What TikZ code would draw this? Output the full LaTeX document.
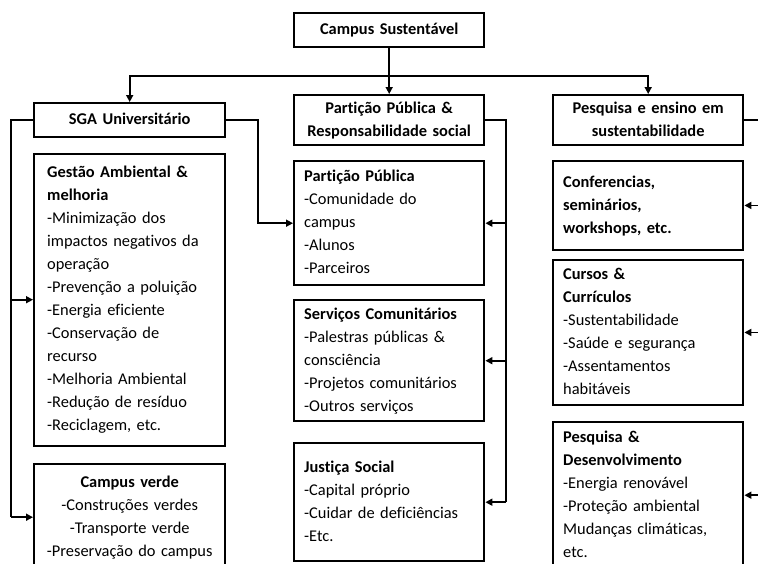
\documentclass[tikz,border=0pt]{standalone}
\usepackage{fontspec}
\setmainfont{Carlito}[Ligatures=NoCommon]
\usetikzlibrary{arrows.meta}
\begin{document}
\begin{tikzpicture}[x=1pt,y=-1pt,
  box/.style={draw, line width=2.4pt, anchor=north west, inner xsep=10pt, inner ysep=0pt,
    text width=170pt, font=\fontsize{16.4}{23}\selectfont},
  lbox/.style={box, align=left},
  cbox/.style={box, align=center},
  conn/.style={line width=1.6pt},
  arr/.style={conn, -{Triangle[length=7pt,width=7pt]}}
]
\clip (0,0) rectangle (758,563);
% top
\node[cbox, minimum height=34pt] (campus) at (293,11.5) {\strut\textbf{Campus Sustentável}};
% headers
\node[cbox, text width=171pt, minimum height=34pt] (sga) at (33,102) {\strut\textbf{SGA Universitário}};
\node[cbox, minimum height=50pt] (part) at (293,94) {\strut\textbf{Partição Pública \&}\\\textbf{Responsabilidade social}\strut};
\node[cbox, minimum height=50pt] (pesq) at (552,94) {\strut\textbf{Pesquisa e ensino em}\\\textbf{sustentabilidade}\strut};
% left column
\node[lbox, inner xsep=13pt, text width=165pt, minimum height=292pt] (gestao) at (33,152.5) {\strut\textbf{Gestão Ambiental \&}\\\textbf{melhoria}\\-Minimização dos\\impactos negativos da\\operação\\-Prevenção a poluição\\-Energia eficiente\\-Conservação de\\recurso\\-Melhoria Ambiental\\-Redução de resíduo\\-Reciclagem, etc.\strut};
\node[cbox, text width=171pt, minimum height=107pt] (verde) at (33,462.5) {\strut\textbf{Campus verde}\\-Construções verdes\\-Transporte verde\\-Preservação do campus\strut};
% middle column
\node[lbox, minimum height=124pt] (pp) at (293,160) {\strut\textbf{Partição Pública}\\-Comunidade do\\campus\\-Alunos\\-Parceiros\strut};
\node[lbox, minimum height=121pt] (serv) at (293,299) {\strut\textbf{Serviços Comunitários}\\-Palestras públicas \&\\consciência\\-Projetos comunitários\\-Outros serviços\strut};
\node[lbox, minimum height=118pt] (just) at (293,442) {\strut\textbf{Justiça Social}\\-Capital próprio\\-Cuidar de deficiências\\-Etc.\strut};
% right column
\node[lbox, minimum height=88.5pt] (conf) at (552,160) {\strut\textbf{Conferencias,}\\\textbf{seminários,}\\\textbf{workshops, etc.}\strut};
\node[lbox, minimum height=145.5pt] (cursos) at (552,258.5) {\strut\textbf{Cursos \&}\\\textbf{Currículos}\\-Sustentabilidade\\-Saúde e segurança\\-Assentamentos\\habitáveis\strut};
\node[lbox, minimum height=146pt] (pd) at (552,421) {\strut\textbf{Pesquisa \&}\\\textbf{Desenvolvimento}\\-Energia renovável\\-Proteção ambiental\\Mudanças climáticas,\\etc.\strut};
% connector rails
\coordinate (lx) at (11,0);
\coordinate (mx) at (258,0);
\coordinate (px) at (506,0);
\coordinate (qx) at (766,0);
% top tree
\draw[arr] (campus.south) -- (part.north);
\draw[arr] (campus.south) ++(0,28) -| (sga.north);
\draw[arr] (campus.south) ++(0,28) -| (pesq.north);
% left rail
\draw[conn] (sga.west) -- (sga.west -| lx) -- (lx |- verde.west);
\draw[arr] (lx |- gestao.west) -- (gestao.west);
\draw[arr] (lx |- verde.west) -- (verde.west);
% sga to partição pública
\draw[arr] (sga.east) -- (sga.east -| mx) |- (pp.west);
% middle rail
\draw[conn] (part.east) -- (part.east -| px) -- (px |- just.east);
\draw[arr] (px |- pp.east) -- (pp.east);
\draw[arr] (px |- serv.east) -- (serv.east);
\draw[arr] (px |- just.east) -- (just.east);
% right rail
\draw[conn] (pesq.east) -- (pesq.east -| qx) -- (qx |- pd.east);
\draw[arr] (qx |- conf.east) -- (conf.east);
\draw[arr] (qx |- cursos.east) -- (cursos.east);
\draw[arr] (qx |- pd.east) -- (pd.east);
\end{tikzpicture}
\end{document}
